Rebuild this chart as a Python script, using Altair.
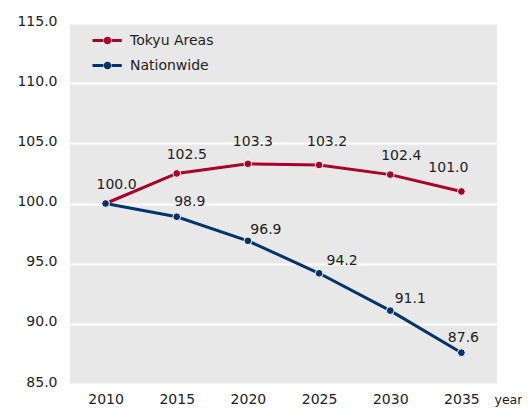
import altair as alt
import pandas as pd

years = [2010, 2015, 2020, 2025, 2030, 2035]
tokyu = [100.0, 102.5, 103.3, 103.2, 102.4, 101.0]
nation = [100.0, 98.9, 96.9, 94.2, 91.1, 87.6]
series = ["Tokyu Areas", "Nationwide"]
colors = ["#a8002a", "#00346b"]
y_ticks = [85, 90, 95, 100, 105, 110, 115]

# label offsets in pixels (dx, dy) per series, per year; None = no label
tokyu_off = [(11, -19), (10, -18), (5, -22), (8, -23), (11, -19), (-13, -23)]
nation_off = [None, (13, -15), (18, -11), (23, -12), (20, -12), (2, -15)]

rows = []
for s, vals in zip(series, [tokyu, nation]):
    for yr, v in zip(years, vals):
        rows.append({"year": str(yr), "value": v, "series": s})
df = pd.DataFrame(rows)

FONT = "DejaVu Sans"
FS = 14
x_enc = alt.X("year:O", scale=alt.Scale(type="point", padding=0.5),
              axis=alt.Axis(title="year", labelAngle=0, labelPadding=8,
                            labelFontSize=FS, titleFontSize=12.5, titleFontWeight="normal",
                            titleAlign="left", titleBaseline="top", titleX=424, titleY=9,
                            domain=False, ticks=False, grid=False))
y_enc = alt.Y("value:Q", scale=alt.Scale(domain=[85, 115], nice=False, zero=False),
              axis=alt.Axis(title=None, values=y_ticks, format=".1f", labelFontSize=FS,
                            labelPadding=13, labelOffset=-2, domain=False, ticks=False,
                            gridColor="white", gridWidth=2))
color_scale = alt.Scale(domain=series, range=colors)

legend_path = ("M-2,-0.2H-0.55V0.2H-2Z M0.55,-0.2H1.9V0.2H0.55Z "
               "M0.5,0A0.5,0.5 0 1,1 -0.5,0A0.5,0.5 0 1,1 0.5,0Z")

lines = alt.Chart(df).mark_line(strokeWidth=3).encode(
    x=x_enc, y=y_enc,
    color=alt.Color("series:N", scale=color_scale, sort=series, legend=None),
)
points = alt.Chart(df).mark_point(filled=True, size=60, stroke="white",
                                  strokeWidth=1, opacity=1).encode(
    x=x_enc, y=y_enc,
    fill=alt.Fill("series:N", scale=color_scale, sort=series,
                  legend=alt.Legend(title=None, orient="none", legendX=30, legendY=10,
                                    symbolType=legend_path, symbolSize=225,
                                    symbolStrokeWidth=0, symbolOpacity=1,
                                    labelFontSize=FS, labelOffset=15,
                                    rowPadding=10, padding=0)),
)

layers = [lines, points]
for s, offs in zip(series, [tokyu_off, nation_off]):
    for yr, off in zip(years, offs):
        if off is None:
            continue
        dx, dy = off
        t = alt.Chart(df).transform_filter(
            (alt.datum.series == s) & (alt.datum.year == str(yr))
        ).mark_text(dx=dx, dy=dy, fontSize=FS, font=FONT, color="#222").encode(
            x=x_enc, y=y_enc, text=alt.Text("value:Q", format=".1f"))
        layers.append(t)

chart = alt.layer(*layers).resolve_scale(fill="independent", color="independent").properties(
    width=427, height=361,
    autosize=alt.AutoSizeParams(type="none"),
    padding={"left": 62, "top": 15, "right": 25, "bottom": 23},
).configure(font=FONT).configure_view(
    fill="#e8e8e8", stroke=None
).configure_axis(labelColor="#222", titleColor="#222", labelFont=FONT, titleFont=FONT
).configure_legend(labelColor="#222", labelFont=FONT)

chart.save("out.html", embed_options={"renderer": "svg", "actions": False})
